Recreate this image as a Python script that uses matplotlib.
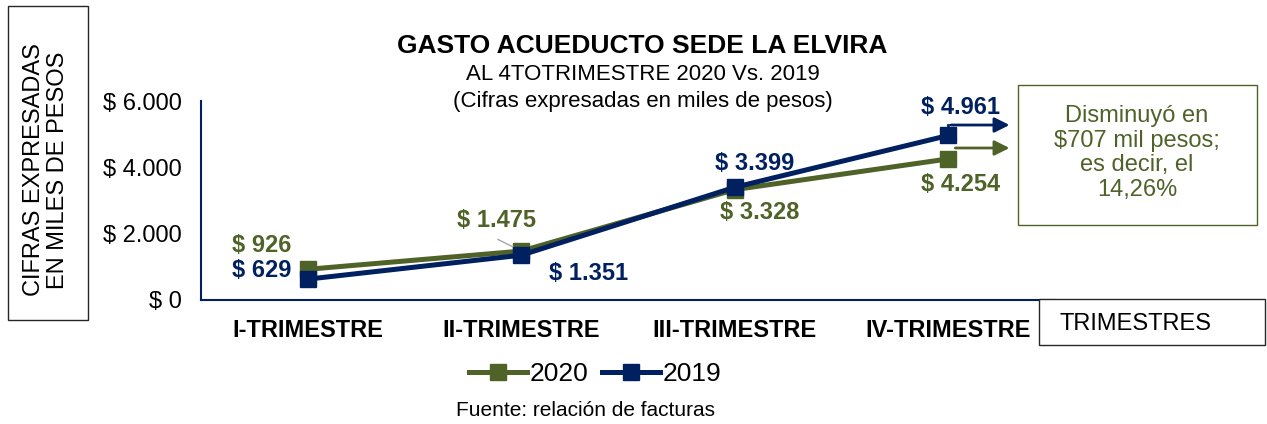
import matplotlib
matplotlib.use("Agg")
import matplotlib.pyplot as plt
from matplotlib.patches import Rectangle

plt.rcParams['font.family'] = ['Liberation Sans', 'DejaVu Sans']

# data
trimestres = ['I-TRIMESTRE', 'II-TRIMESTRE', 'III-TRIMESTRE', 'IV-TRIMESTRE']
gasto_2020 = [926, 1475, 3328, 4254]
gasto_2019 = [629, 1351, 3399, 4961]
y_ticks = [0, 2000, 4000, 6000]

verde = '#4F6228'
azul = '#002060'

W, H = 1267, 424
fig = plt.figure(figsize=(W / 100, H / 100), dpi=100)


def fx(px):
    return px / W


def fy(py):
    return 1 - py / H


# axes area in pixels: x 201..1055, y 101..300
ax = fig.add_axes([fx(201), fy(300), fx(1055) - fx(201), fy(101) - fy(300)])
x = list(range(len(trimestres)))

ax.plot(x, gasto_2020, color=verde, lw=3.6, marker='s', ms=11, label='2020', zorder=3)
ax.plot(x, gasto_2019, color=azul, lw=3.6, marker='s', ms=11, label='2019', zorder=4)

ax.set_xlim(-0.5, 3.5)
ax.set_ylim(0, 6000)
ax.set_yticks(y_ticks)
ax.set_yticklabels(['$ ' + f'{v:,}'.replace(',', '.') for v in y_ticks], fontsize=17)
ax.set_xticks(x)
ax.set_xticklabels(trimestres, fontsize=17, fontweight='bold')
ax.tick_params(axis='y', length=0, pad=14)
ax.tick_params(axis='x', length=0, pad=14)
for s in ['top', 'right']:
    ax.spines[s].set_visible(False)
for s in ['left', 'bottom']:
    ax.spines[s].set_color(azul)
    ax.spines[s].set_linewidth(1.5)

# data labels (offsets in pixels from each point)
off_2020 = [(-46, 24), (-25, 31), (25, -23), (12, -26)]
off_2019 = [(-46, 9), (67, -18), (20, 24), (12, 28)]
for i in x:
    ax.annotate('$ ' + f'{gasto_2020[i]:,}'.replace(',', '.'), (i, gasto_2020[i]),
                xytext=off_2020[i], textcoords='offset pixels', ha='center', va='center',
                fontsize=17, fontweight='bold', color=verde)
    ax.annotate('$ ' + f'{gasto_2019[i]:,}'.replace(',', '.'), (i, gasto_2019[i]),
                xytext=off_2019[i], textcoords='offset pixels', ha='center', va='center',
                fontsize=17, fontweight='bold', color=azul)

# leader line for $ 1.475
ax.annotate('', (1, gasto_2020[1]), xytext=(-26, 13), textcoords='offset pixels',
            arrowprops=dict(arrowstyle='-', color='#A6A6A6', lw=1))

# arrows towards the note box
ax.annotate('', xy=(3.30, 5276), xytext=(3.0, 5276),
            arrowprops=dict(arrowstyle='-|>,head_length=0.9,head_width=0.45', color=azul, lw=2),
            annotation_clip=False)
ax.plot([3.0, 3.0], [gasto_2019[3], 5276], color=azul, lw=2, clip_on=False)
ax.annotate('', xy=(3.30, 4583), xytext=(3.02, 4583),
            arrowprops=dict(arrowstyle='-|>,head_length=0.9,head_width=0.45', color=verde, lw=2),
            annotation_clip=False)

# titles
fig.text(fx(642), fy(46), 'GASTO ACUEDUCTO SEDE LA ELVIRA', ha='center', va='center',
         fontsize=19, fontweight='bold')
fig.text(fx(643), fy(74), 'AL 4TOTRIMESTRE 2020 Vs. 2019', ha='center', va='center', fontsize=16)
fig.text(fx(643), fy(101), '(Cifras expresadas en miles de pesos)', ha='center', va='center', fontsize=16)

# y label box
fig.add_artist(Rectangle((fx(8), fy(320)), fx(88) - fx(8), fy(6) - fy(320),
                         transform=fig.transFigure, fill=False, ec='#262626', lw=1))
fig.text(fx(46), fy(170), 'CIFRAS EXPRESADAS\nEN MILES DE PESOS', rotation=90,
         ha='center', va='center', fontsize=17, linespacing=1.1)

# x label box
fig.add_artist(Rectangle((fx(1039), fy(345)), fx(1265) - fx(1039), fy(299) - fy(345),
                         transform=fig.transFigure, fc='white', ec='#262626', lw=1, zorder=5))
fig.text(fx(1060), fy(324), 'TRIMESTRES', ha='left', va='center', fontsize=17, zorder=6)

# note box
fig.add_artist(Rectangle((fx(1018), fy(225)), fx(1257) - fx(1018), fy(85) - fy(225),
                         transform=fig.transFigure, fc='white', ec=verde, lw=1, zorder=5))
fig.text(fx(1137), fy(153), 'Disminuyó en\n$707 mil pesos;\nes decir, el\n14,26%',
         ha='center', va='center', fontsize=17, color=verde, linespacing=1.15, zorder=6)

# legend
fig.legend(loc='center', bbox_to_anchor=(fx(595), fy(374)), ncol=2, frameon=False,
           fontsize=19, handlelength=2.2, handletextpad=0.1, columnspacing=0.5)

fig.text(fx(585), fy(411), 'Fuente: relación de facturas', ha='center', va='center', fontsize=15)

fig.savefig('out.png', dpi=100)
